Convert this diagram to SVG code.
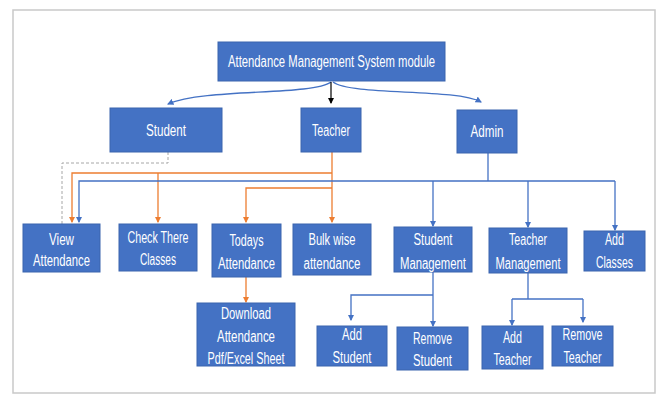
<svg xmlns="http://www.w3.org/2000/svg" width="663" height="395" viewBox="0 0 663 395">
  <style>
    .box { fill: #4472C4; stroke: #3A64AE; stroke-width: 1; }
    .lbl { fill: #ffffff; font-family: "Liberation Sans", Arial, sans-serif; font-size: 16px; text-anchor: middle; }
    .blue { fill: none; stroke: #4472C4; stroke-width: 1.3; }
    .orange { fill: none; stroke: #ED7D31; stroke-width: 1.3; }
    .dash { fill: none; stroke: #A6A6A6; stroke-width: 1; stroke-dasharray: 3 2; }
  </style>
  <defs>
    <marker id="ab" viewBox="0 0 6 6" refX="5" refY="3" markerWidth="5" markerHeight="5" orient="auto">
      <path d="M0,0 L6,3 L0,6 z" fill="#4472C4"/>
    </marker>
    <marker id="ao" viewBox="0 0 6 6" refX="5" refY="3" markerWidth="5" markerHeight="5" orient="auto">
      <path d="M0,0 L6,3 L0,6 z" fill="#ED7D31"/>
    </marker>
    <marker id="ak" viewBox="0 0 6 6" refX="5" refY="3" markerWidth="5" markerHeight="5" orient="auto">
      <path d="M0,0 L6,3 L0,6 z" fill="#000000"/>
    </marker>
  </defs>

  <!-- page frame -->
  <rect x="0" y="0" width="663" height="395" fill="#ffffff"/>
  <rect x="13" y="10" width="642" height="383" fill="#ffffff" stroke="#C9C9C9" stroke-width="1.5"/>

  <!-- connectors -->
  <g id="connectors">
    <path class="blue" d="M331,82 C312,96 205,88 168,104" marker-end="url(#ab)"/>
    <path d="M331,82 L331,103" fill="none" stroke="#000" stroke-width="1.2" marker-end="url(#ak)"/>
    <path class="blue" d="M333,82 C352,96 455,88 481,102" marker-end="url(#ab)"/>

    <path class="dash" d="M168,152 V163 H62 V224"/>

    <path class="orange" d="M332,152 V222" marker-end="url(#ao)"/>
    <path class="orange" d="M332,173 H72 V222" marker-end="url(#ao)"/>
    <path class="orange" d="M158,173 V222" marker-end="url(#ao)"/>
    <path class="orange" d="M332,188 H246 V222" marker-end="url(#ao)"/>
    <path class="orange" d="M246,277 V302" marker-end="url(#ao)"/>

    <path class="blue" d="M488,153 V181"/>
    <path class="blue" d="M615,181 H79 V222" marker-end="url(#ab)"/>
    <path class="blue" d="M433,181 V226" marker-end="url(#ab)"/>
    <path class="blue" d="M528,181 V227" marker-end="url(#ab)"/>
    <path class="blue" d="M615,181 V230" marker-end="url(#ab)"/>

    <path class="blue" d="M433,272 V326" marker-end="url(#ab)"/>
    <path class="blue" d="M433,295 H351 V320" marker-end="url(#ab)"/>
    <path class="blue" d="M528,273 V299"/>
    <path class="blue" d="M512,299 H583"/>
    <path class="blue" d="M512,299 V325" marker-end="url(#ab)"/>
    <path class="blue" d="M583,299 V322" marker-end="url(#ab)"/>
  </g>

  <!-- nodes -->
  <g id="root">
    <rect class="box" x="218" y="42" width="227" height="39"/>
    <text class="lbl" x="331.5" y="67" textLength="207" lengthAdjust="spacingAndGlyphs">Attendance Management System module</text>
  </g>
  <g id="student">
    <rect class="box" x="110" y="108" width="112" height="44"/>
    <text class="lbl" x="166" y="136" textLength="40" lengthAdjust="spacingAndGlyphs">Student</text>
  </g>
  <g id="teacher">
    <rect class="box" x="301" y="108" width="60" height="44"/>
    <text class="lbl" x="331" y="136" textLength="38" lengthAdjust="spacingAndGlyphs">Teacher</text>
  </g>
  <g id="admin">
    <rect class="box" x="457" y="110" width="60" height="43"/>
    <text class="lbl" x="487" y="137" textLength="33" lengthAdjust="spacingAndGlyphs">Admin</text>
  </g>

  <g id="view-attendance">
    <rect class="box" x="23" y="224" width="77" height="48"/>
    <text class="lbl" x="61.5" y="245" textLength="25" lengthAdjust="spacingAndGlyphs">View</text>
    <text class="lbl" x="61.5" y="266" textLength="57" lengthAdjust="spacingAndGlyphs">Attendance</text>
  </g>
  <g id="check-classes">
    <rect class="box" x="119" y="224" width="78" height="47"/>
    <text class="lbl" x="158" y="243" textLength="61" lengthAdjust="spacingAndGlyphs">Check There</text>
    <text class="lbl" x="158" y="265" textLength="36" lengthAdjust="spacingAndGlyphs">Classes</text>
  </g>
  <g id="todays-attendance">
    <rect class="box" x="212" y="224" width="69" height="53"/>
    <text class="lbl" x="246.5" y="246" textLength="34" lengthAdjust="spacingAndGlyphs">Todays</text>
    <text class="lbl" x="246.5" y="269" textLength="57" lengthAdjust="spacingAndGlyphs">Attendance</text>
  </g>
  <g id="bulk-attendance">
    <rect class="box" x="293" y="224" width="78" height="51"/>
    <text class="lbl" x="332" y="245" textLength="47" lengthAdjust="spacingAndGlyphs">Bulk wise</text>
    <text class="lbl" x="332" y="269" textLength="57" lengthAdjust="spacingAndGlyphs">attendance</text>
  </g>
  <g id="student-management">
    <rect class="box" x="394" y="227" width="78" height="45"/>
    <text class="lbl" x="433" y="245" textLength="39" lengthAdjust="spacingAndGlyphs">Student</text>
    <text class="lbl" x="433" y="269" textLength="66" lengthAdjust="spacingAndGlyphs">Management</text>
  </g>
  <g id="teacher-management">
    <rect class="box" x="489" y="228" width="78" height="45"/>
    <text class="lbl" x="528" y="245" textLength="38" lengthAdjust="spacingAndGlyphs">Teacher</text>
    <text class="lbl" x="528" y="269" textLength="65" lengthAdjust="spacingAndGlyphs">Management</text>
  </g>
  <g id="add-classes">
    <rect class="box" x="584" y="231" width="61" height="40"/>
    <text class="lbl" x="614.5" y="245" textLength="19" lengthAdjust="spacingAndGlyphs">Add</text>
    <text class="lbl" x="614.5" y="268" textLength="37" lengthAdjust="spacingAndGlyphs">Classes</text>
  </g>

  <g id="download-attendance">
    <rect class="box" x="197" y="303" width="98" height="63"/>
    <text class="lbl" x="246" y="319" textLength="50" lengthAdjust="spacingAndGlyphs">Download</text>
    <text class="lbl" x="246" y="342" textLength="58" lengthAdjust="spacingAndGlyphs">Attendance</text>
    <text class="lbl" x="246" y="364" textLength="77" lengthAdjust="spacingAndGlyphs">Pdf/Excel Sheet</text>
  </g>
  <g id="add-student">
    <rect class="box" x="317" y="326" width="70" height="40"/>
    <text class="lbl" x="352" y="340" textLength="20" lengthAdjust="spacingAndGlyphs">Add</text>
    <text class="lbl" x="352" y="363" textLength="39" lengthAdjust="spacingAndGlyphs">Student</text>
  </g>
  <g id="remove-student">
    <rect class="box" x="397" y="327" width="71" height="43"/>
    <text class="lbl" x="432.5" y="344" textLength="39" lengthAdjust="spacingAndGlyphs">Remove</text>
    <text class="lbl" x="432.5" y="366" textLength="39" lengthAdjust="spacingAndGlyphs">Student</text>
  </g>
  <g id="add-teacher">
    <rect class="box" x="482" y="326" width="61" height="43"/>
    <text class="lbl" x="512.5" y="343" textLength="19" lengthAdjust="spacingAndGlyphs">Add</text>
    <text class="lbl" x="512.5" y="365" textLength="38" lengthAdjust="spacingAndGlyphs">Teacher</text>
  </g>
  <g id="remove-teacher">
    <rect class="box" x="552" y="326" width="61" height="40"/>
    <text class="lbl" x="582.5" y="340" textLength="40" lengthAdjust="spacingAndGlyphs">Remove</text>
    <text class="lbl" x="582.5" y="363" textLength="38" lengthAdjust="spacingAndGlyphs">Teacher</text>
  </g>
</svg>
